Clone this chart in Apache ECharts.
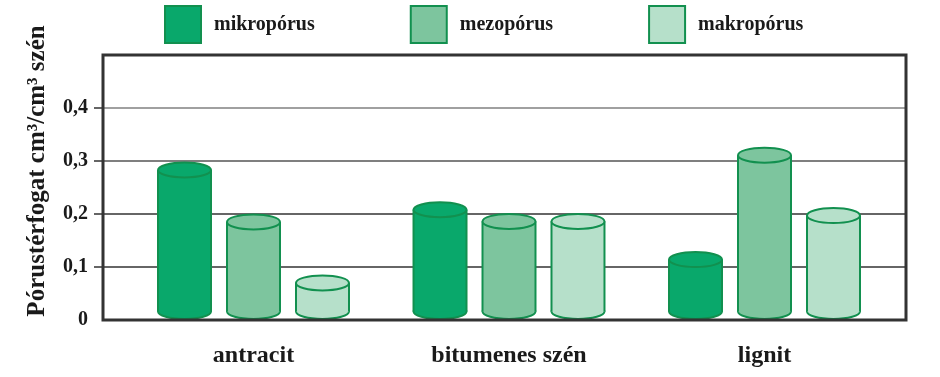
<!DOCTYPE html>
<html>
<head>
<meta charset="utf-8">
<script src="https://cdn.jsdelivr.net/npm/echarts@6/dist/echarts.min.js"></script>
<style>html,body{margin:0;padding:0;background:#fff;}#c{width:940px;height:377px;}</style>
</head>
<body>
<div id="c"></div>
<script>
var categories = ['antracit', 'bitumenes szén', 'lignit'];
var seriesNames = ['mikropórus', 'mezopórus', 'makropórus'];
var mikro = [0.283, 0.208, 0.114];
var mezo = [0.185, 0.186, 0.311];
var makro = [0.070, 0.186, 0.197];
var yTicks = [0, 0.1, 0.2, 0.3, 0.4];
var yTickMarks = [0.1, 0.2, 0.3, 0.4];
var yAxisTitle = 'Pórustérfogat cm³/cm³ szén';

var fills = ['#09a86b', '#7dc59e', '#b6e0ca'];
var stroke = '#12904f';
var FONT = '"Liberation Serif","Times New Roman",serif';

function makeRender(idx) {
  return function (params, api) {
    var cat = api.value(0), val = api.value(1);
    var band = api.size([1, 0])[0];
    var base = api.coord([cat, 0]);
    var cx = base[0] + (idx - 1) * band * 0.27;
    var rx = band * 0.2074 / 2;
    var ry = 7.5;
    var ytop = api.coord([cat, val])[1];
    var yb = base[1] - ry - 1;
    var fill = fills[idx];
    return {
      type: 'group',
      children: [
        { type: 'ellipse', shape: { cx: cx, cy: yb, rx: rx, ry: ry }, style: { fill: fill, stroke: stroke, lineWidth: 2 } },
        { type: 'rect', shape: { x: cx - rx, y: ytop, width: rx * 2, height: yb - ytop }, style: { fill: fill } },
        { type: 'line', shape: { x1: cx - rx, y1: ytop, x2: cx - rx, y2: yb }, style: { stroke: stroke, lineWidth: 2 } },
        { type: 'line', shape: { x1: cx + rx, y1: ytop, x2: cx + rx, y2: yb }, style: { stroke: stroke, lineWidth: 2 } },
        { type: 'ellipse', shape: { cx: cx, cy: ytop, rx: rx, ry: ry }, style: { fill: fill, stroke: stroke, lineWidth: 2 } }
      ]
    };
  };
}

var dataSets = [mikro, mezo, makro];
var series = dataSets.map(function (arr, i) {
  return {
    name: seriesNames[i],
    type: 'custom',
    xAxisIndex: 1,
    yAxisIndex: 1,
    itemStyle: { color: fills[i], borderColor: stroke, borderWidth: 2 },
    renderItem: makeRender(i),
    data: arr.map(function (v, j) { return [j, v]; }),
    z: 3
  };
});

var chart = echarts.init(document.getElementById('c'), null, { renderer: 'canvas' });
chart.setOption({
  animation: false,
  backgroundColor: '#fff',
  legend: {
    left: 164, top: 5, padding: 0,
    itemWidth: 36, itemHeight: 37, itemGap: 95,
    icon: 'rect',
    data: seriesNames.map(function (n, i) {
      return { name: n, itemStyle: { color: fills[i], borderColor: stroke, borderWidth: 2 } };
    }),
    textStyle: { fontFamily: FONT, fontWeight: 'bold', fontSize: 20, color: '#1a1a1a', padding: [0, 0, 0, 8] }
  },
  grid: [
    { left: 103, right: 34, top: 55, bottom: 57, show: true, borderColor: '#333', borderWidth: 3, backgroundColor: 'transparent', z: 4 },
    { left: 125.75, right: 47.75, top: 55, bottom: 57 }
  ],
  xAxis: [
    { gridIndex: 0, type: 'value', show: false, min: 0, max: 1 },
    {
      gridIndex: 1, type: 'category', data: categories,
      axisLine: { show: false }, axisTick: { show: false },
      axisLabel: { fontFamily: FONT, fontWeight: 'bold', fontSize: 24, color: '#1a1a1a', margin: 24 }
    }
  ],
  yAxis: [
    {
      gridIndex: 0, type: 'value', min: 0, max: 0.5, interval: 0.1,
      axisLine: { show: false },
      axisTick: { show: true, length: 9, customValues: yTickMarks, lineStyle: { color: '#333', width: 1.5 } },
      axisLabel: {
        customValues: yTicks, margin: 15,
        fontFamily: FONT, fontWeight: 'bold', fontSize: 20, color: '#1a1a1a',
        formatter: function (v) { return String(Math.round(v * 10) / 10).replace('.', ','); }
      },
      splitLine: { show: true, lineStyle: { color: ['#333', '#333', '#555', '#808080', '#aaa', '#333'], width: 1.5 } }
    },
    { gridIndex: 1, type: 'value', min: 0, max: 0.5, interval: 0.1, show: false, splitLine: { show: false } }
  ],
  graphic: [
    {
      type: 'text', x: 38, y: 171, rotation: Math.PI / 2, z: 10,
      style: { text: yAxisTitle, font: 'bold 25px ' + FONT, fill: '#1a1a1a', align: 'center', verticalAlign: 'middle' }
    }
  ],
  series: series
});
</script>
</body>
</html>
